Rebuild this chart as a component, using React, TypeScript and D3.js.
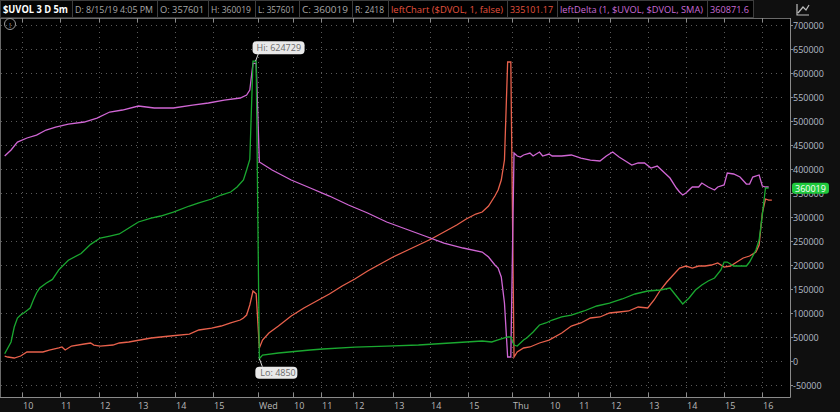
import React from 'react';
import * as d3 from 'd3';

const W = 840;
const H = 412;

// x ticks (in 5-minute bar index units) and labels
const xTickBars = [5.5, 17.5, 29.5, 41.5, 53.5, 65.5, 79.5, 90.5, 99.5, 109.5, 122, 133.5, 145.5, 159.5, 171, 180, 190, 202, 214, 226, 238];
const xTickLabels = ['10', '11', '12', '13', '14', '15', 'Wed', '10', '11', '12', '13', '14', '15', 'Thu', '10', '11', '12', '13', '14', '15', '16'];

const yTickValues = [-50000, 0, 50000, 100000, 150000, 200000, 250000, 300000, 350000, 400000, 450000, 500000, 550000, 600000, 650000, 700000];

// $UVOL (green)
const uvolBars = [0, 2, 3, 4, 5, 6, 8, 9, 10, 11, 13, 15, 17, 20, 24, 27, 30, 33, 36, 39, 42, 46, 49, 53, 58, 61, 65, 68, 71, 73, 75, 76, 77, 78, 79,
  80, 81, 86, 96, 100, 110, 120, 130, 140, 145, 150, 153, 155, 157, 158, 159,
  160, 161, 163, 164, 166, 168, 170, 172, 175, 178, 182, 186, 190, 194, 198, 202, 206, 209, 211, 213, 215, 217, 219, 221, 223, 225, 226, 227, 229, 233, 234, 236, 237, 238, 239, 240];
const uvolValues = [15000, 39600, 70800, 89600, 95800, 100000, 110400, 127000, 141700, 152000, 162000, 170000, 190000, 210000, 224000, 243000, 256200, 260400, 264600, 277100, 289600, 297900, 302100, 310400, 322900, 329200, 337500, 345800, 352100, 362500, 377100, 397900, 420000, 624729, 624729,
  4850, 12500, 16700, 22900, 25000, 29000, 31000, 33300, 37500, 39600, 41700, 39600, 43800, 48000, 50000, 50000,
  33300, 31200, 43800, 48000, 60400, 75000, 79200, 85400, 91700, 95800, 104200, 114600, 120800, 129200, 139600, 145800, 147900, 152100, 135400, 118800, 131200, 147900, 158300, 166700, 172900, 189600, 206200, 206200, 197900, 197900, 206200, 231200, 252100, 304200, 360400, 360019];

// leftChart $DVOL (red)
const dvolBars = [0, 1, 3, 5, 7, 12, 14, 17, 18, 19, 21, 25, 27, 28, 30, 34, 36, 39, 46, 52, 58, 61, 65, 68, 71, 74, 75, 76, 77, 78, 79,
  80, 81, 83, 86, 90, 94, 98, 102, 106, 110, 114, 118, 122, 126, 130, 134, 138, 142, 145, 148, 150, 152, 154, 155, 156, 157, 158, 159,
  160, 161, 163, 165, 168, 171, 175, 178, 181, 184, 187, 190, 193, 196, 199, 202, 204, 206, 208, 210, 212, 214, 216, 218, 220, 222, 224, 226, 228, 230, 232, 234, 236, 237, 238, 239, 240, 241];
const dvolValues = [10400, 8300, 6250, 10400, 18800, 18800, 22900, 27100, 29200, 22900, 31200, 35400, 37500, 33300, 31200, 33300, 37500, 39600, 47900, 52100, 56200, 64600, 68700, 72900, 79200, 85400, 89600, 95800, 116700, 145800, 140000,
  27100, 43700, 58300, 72900, 93700, 110400, 125000, 139600, 156200, 170800, 187500, 202100, 216700, 229200, 241700, 254200, 268700, 283300, 295800, 306200, 310400, 322900, 343700, 356200, 377100, 418700, 622900, 622900,
  8300, 18800, 27100, 29200, 37500, 43700, 58300, 72900, 79200, 89600, 91700, 100000, 102100, 104200, 112500, 110400, 127100, 147900, 164600, 179200, 193700, 197900, 193700, 197900, 197900, 200000, 204200, 195800, 197900, 206200, 214600, 218700, 227100, 241700, 308300, 337500, 335101, 335101];

// leftDelta (magenta)
const deltaBars = [0, 2, 4, 7, 10, 13, 16, 20, 25, 29, 33, 37, 42, 47, 53, 59, 64, 69, 74, 76, 77, 78, 79,
  80, 84, 90, 96, 102, 108, 114, 120, 126, 132, 138, 144, 150, 152, 154, 155, 156, 157, 158, 159,
  160, 161, 162, 163, 165, 166, 168, 169, 171, 172, 175, 178, 181, 184, 187, 189, 191, 193, 195, 197, 199, 201, 203, 205, 207, 209, 211, 212, 213, 214, 216, 218, 219, 221, 223, 224, 226, 227, 229, 231, 233, 234, 235, 237, 238, 239, 240];
const deltaValues = [427100, 439600, 456200, 464600, 470800, 481200, 487500, 493700, 497900, 506200, 518700, 522900, 531200, 527100, 527100, 533300, 537500, 543700, 547900, 554200, 564600, 620000, 620000,
  414600, 397900, 377100, 360400, 343700, 325000, 308300, 289600, 275000, 260400, 245800, 235400, 227100, 216700, 200000, 193700, 175000, 120800, 8300, 8300,
  433300, 427100, 425000, 429200, 433300, 427100, 435400, 427100, 431200, 427100, 427100, 429200, 422900, 418700, 416700, 427100, 435400, 425000, 416700, 408300, 412500, 412500, 402100, 406200, 393700, 381200, 360400, 352100, 345800, 350000, 362500, 362500, 370800, 362500, 356200, 362500, 366700, 391700, 389600, 383300, 368700, 368700, 383300, 387500, 364600, 362500, 362500];

const headerTexts = ['$UVOL 3 D 5m', 'D: 8/15/19 4:05 PM', 'O: 357601', 'H: 360019', 'L: 357601', 'C: 360019', 'R: 2418', 'leftChart ($DVOL, 1, false)', '335101.17', 'leftDelta (1, $UVOL, $DVOL, SMA)', '360871.6'];
const hiValue = 624729;
const hiBar = 78.5;
const loValue = 4850;
const loBar = 80;
const lastValue = 360019;

// layout (not data)
const headerEdges = [0, 72, 157, 208, 255, 299, 352, 388, 507, 557, 707, 753];
const headerColors = ['#ffffff', '#a9a9a9', '#a9a9a9', '#a9a9a9', '#a9a9a9', '#a9a9a9', '#a9a9a9', '#e5533f', '#e5533f', '#c96bd6', '#c96bd6'];

const PL = 1, PR = 790, PT = 18, PB = 397;
const FONT = '"Open Sans", "DejaVu Sans", sans-serif';

export default function App() {
  const x = d3.scaleLinear().domain([-1.16, 246.7]).range([PL, PR]);
  const y = d3.scaleLinear().domain([-75000, 714600]).range([PB, PT]);

  const mk = (bars: number[], vals: number[]) =>
    d3.line<number>().x((_, i) => x(bars[i])).y((v) => y(v)).curve(d3.curveLinear)(vals) || '';

  const greenPath = mk(uvolBars, uvolValues);
  const redPath = mk(dvolBars, dvolValues);
  const magPath = mk(deltaBars, deltaValues);

  const hx = x(hiBar), hy = y(hiValue);
  const lx = x(loBar), ly = y(loValue);

  return (
    <svg width={W} height={H} style={{ position: 'absolute', left: 0, top: 0, background: '#0f0f0f', fontFamily: FONT }}>
      <rect x={0} y={0} width={W} height={H} fill="#0f0f0f" />
      {/* plot area */}
      <rect x={PL} y={PT} width={PR - PL} height={PB - PT} fill="#000" />
      {/* grid */}
      {yTickValues.map((v) => (
        <line key={'gy' + v} x1={PL} x2={PR - 4} y1={Math.round(y(v)) + 0.5} y2={Math.round(y(v)) + 0.5} stroke="#5a5a5a" strokeWidth={1} strokeDasharray="1,4" />
      ))}
      {xTickBars.map((b, i) => (
        <line key={'gx' + i} x1={Math.round(x(b)) + 0.5} x2={Math.round(x(b)) + 0.5} y1={PT + 4} y2={PB} stroke="#5a5a5a" strokeWidth={1} strokeDasharray="1,4" />
      ))}
      {/* borders */}
      <line x1={PL - 0.5} x2={PL - 0.5} y1={PT} y2={PB} stroke="#6a6a6a" />
      <line x1={PL} x2={PR} y1={PT + 0.5} y2={PT + 0.5} stroke="#6a6a6a" />
      <line x1={0} x2={PR + 0.5} y1={PB + 0.5} y2={PB + 0.5} stroke="#8a8a8a" />
      <line x1={PR + 0.5} x2={PR + 0.5} y1={PT} y2={PB + 0.5} stroke="#8a8a8a" />
      {/* x ticks top & bottom */}
      {xTickBars.map((b, i) => (
        <g key={'xt' + i}>
          <line x1={Math.round(x(b)) + 0.5} x2={Math.round(x(b)) + 0.5} y1={PT} y2={PT + 4} stroke="#8a8a8a" />
          <line x1={Math.round(x(b)) + 0.5} x2={Math.round(x(b)) + 0.5} y1={PB - 4} y2={PB} stroke="#8a8a8a" />
          <text x={Math.round(x(b)) + 1} y={409} fontSize={9} fill="#b9b9b9">{xTickLabels[i]}</text>
        </g>
      ))}
      {/* y axis */}
      {yTickValues.map((v) => (
        <g key={'yt' + v}>
          <line x1={PR} x2={PR + 3} y1={Math.round(y(v)) + 0.5} y2={Math.round(y(v)) + 0.5} stroke="#8a8a8a" />
          <text x={PR + 3} y={y(v) + 3.5} fontSize={9} fill="#b3bcc7">{v}</text>
        </g>
      ))}
      {/* series */}
      <path d={redPath} fill="none" stroke="#e8614c" strokeWidth={1.3} />
      <path d={magPath} fill="none" stroke="#d066d4" strokeWidth={1.3} />
      <path d={greenPath} fill="none" stroke="#1aa830" strokeWidth={1.3} />
      {/* Hi label */}
      <line x1={hx + 1} y1={hy} x2={hx + 4} y2={hy - 8} stroke="#d8d8d8" />
      <rect x={hx - 2} y={hy - 20} width={52} height={13} rx={4} fill="#e9e9e9" />
      <text x={hx + 2} y={hy - 10.5} fontSize={9} fill="#6a6a6a">{'Hi: ' + hiValue}</text>
      {/* Lo label */}
      <line x1={lx} y1={ly} x2={lx + 3} y2={ly + 8} stroke="#d8d8d8" />
      <rect x={lx - 4} y={ly + 8} width={42} height={12} rx={4} fill="#e9e9e9" />
      <text x={lx + 1} y={ly + 17} fontSize={9} fill="#6a6a6a">{'Lo: ' + loValue}</text>
      {/* last value badge */}
      <rect x={PR + 2} y={y(lastValue) - 5.5} width={37} height={11} rx={3} fill="#1fc93c" />
      <text x={PR + 5} y={y(lastValue) + 3.5} fontSize={9} fill="#ffffff">{lastValue}</text>
      {/* header */}
      {headerTexts.map((t, i) => (
        <g key={'h' + i}>
          <rect x={headerEdges[i] + 0.5} y={0.5} width={headerEdges[i + 1] - headerEdges[i]} height={17} fill={i === 0 ? '#050505' : '#000'} stroke="#3d3d3d" />
          <text x={headerEdges[i] + 3} y={12.5} fontSize={i === 0 ? 10 : 9.5} fontWeight={i === 0 ? 'bold' : 'normal'} fill={headerColors[i]}
            textLength={headerEdges[i + 1] - headerEdges[i] - 7} lengthAdjust="spacingAndGlyphs">{t}</text>
        </g>
      ))}
      {/* info icon */}
      <circle cx={10} cy={24} r={5.5} fill="none" stroke="#9a9a9a" />
      <text x={10} y={27.5} fontSize={8} fill="#9a9a9a" textAnchor="middle">!</text>
      {/* top-right icon */}
      <path d="M797,4 L797,15 L809,15 M798,13 L803,7 L806,10 L809,5" fill="none" stroke="#bdbdbd" strokeWidth={1.2} />
    </svg>
  );
}
